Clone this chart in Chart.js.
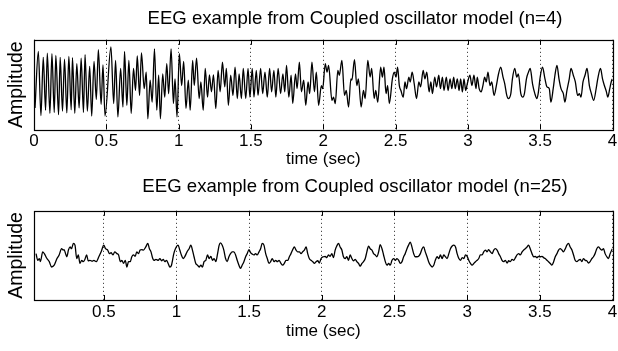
<!DOCTYPE html>
<html><head><meta charset="utf-8">
<script src="https://cdn.jsdelivr.net/npm/chart.js@4.4.0/dist/chart.umd.min.js"></script>
<style>
html,body{margin:0;padding:0;background:#fff;width:618px;height:351px;overflow:hidden;position:relative;}
canvas{position:absolute;left:0;}
#c1{top:0;}
#c2{top:175px;}
</style></head><body>
<canvas id="c1" width="710" height="175" style="width:710px;height:175px"></canvas>
<canvas id="c2" width="710" height="176" style="width:710px;height:176px"></canvas>
<script>
const topTitle = "EEG example from Coupled oscillator model (n=4)";
const bottomTitle = "EEG example from Coupled oscillator model (n=25)";
const xLabel = "time (sec)";
const yLabel = "Amplitude";
const topTicks = [0, 0.5, 1, 1.5, 2, 2.5, 3, 3.5, 4];
const bottomTicks = [0.5, 1, 1.5, 2, 2.5, 3, 3.5, 4];

const topTime = [0.007,0.030,0.048,0.064,0.080,0.092,0.110,0.124,0.140,0.151,0.170,0.181,0.197,0.211,0.227,0.241,0.257,0.266,0.282,0.296,0.312,0.326,0.342,0.353,0.369,0.385,0.399,0.415,0.431,0.445,0.464,0.477,0.491,
0.532,0.551,0.564,0.580,0.599,0.615,0.626,0.642,0.656,0.672,0.688,0.702,0.714,0.730,0.743,0.762,0.776,0.787,0.803,0.817,0.833,0.849,0.862,0.874,0.890,0.904,0.918,0.931,0.948,0.964,0.975,0.989,
1.005,1.021,1.035,1.051,1.067,1.080,1.097,1.108,1.124,1.142,1.154,1.170,1.184,1.200,1.213,1.227,1.241,1.257,1.273,1.287,1.303,1.319,1.330,1.344,1.360,1.376,1.390,1.406,1.418,1.434,1.447,1.464,1.480,1.493,
1.509,1.521,1.537,1.549,1.567,1.581,1.597,1.613,1.629,1.643,1.659,1.672,1.688,1.705,1.721,1.734,1.746,1.762,1.778,1.789,1.808,1.819,1.835,1.849,1.865,1.879,1.895,1.906,1.922,1.939,1.952,1.968,1.987,1.996,
2.014,2.026,2.037,2.060,2.071,2.083,2.101,2.111,2.129,2.147,2.159,2.175,2.191,2.198,2.216,2.232,2.243,2.262,2.278,2.290,2.308,2.324,2.335,2.352,2.363,2.377,2.397,2.409,2.420,2.434,2.445,2.457,2.478,2.491,
2.503,2.514,2.526,2.537,2.553,2.565,2.576,2.592,2.601,2.615,2.629,2.645,2.661,2.673,2.691,2.703,2.716,2.732,2.744,2.755,2.771,2.783,2.799,2.810,2.824,2.835,2.851,2.863,2.877,2.889,2.902,2.913,2.927,2.939,2.950,2.962,2.973,2.985,2.996,
3.014,3.028,3.042,3.056,3.065,3.078,3.092,3.104,3.116,3.127,3.139,3.153,3.165,3.181,3.197,3.210,3.227,3.243,3.255,3.269,3.280,3.297,3.308,3.324,3.338,3.349,3.366,3.380,3.391,3.405,3.419,3.431,3.447,3.463,3.477,3.486,
3.500,3.516,3.533,3.547,3.563,3.574,3.590,3.602,3.616,3.630,3.644,3.660,3.671,3.685,3.701,3.713,3.729,3.743,3.759,3.771,3.782,3.796,3.810,3.824,3.840,3.854,3.870,3.887,3.898,3.917,3.931,3.944,3.958,3.967,3.981,3.991,3.998];
const topAmp = [-0.52,0.74,-0.69,0.61,-0.57,0.70,-0.64,0.69,-0.62,0.65,-0.67,0.61,-0.59,0.57,-0.63,0.63,-0.56,0.60,-0.64,0.47,-0.52,0.59,-0.62,0.67,-0.59,0.41,-0.70,0.52,-0.33,0.78,-0.44,0.44,-0.70,
0.84,-0.42,0.54,-0.72,0.36,-0.50,0.74,-0.46,0.54,-0.64,0.36,-0.13,0.64,-0.24,0.71,-0.09,0.28,-0.76,0.10,-0.39,0.80,-0.57,0.21,-0.76,0.24,-0.28,0.47,-0.20,0.80,-0.42,0.13,-0.72,
0.69,-0.02,0.52,-0.53,0.10,-0.57,0.54,-0.02,0.59,-0.31,0.06,-0.57,0.36,-0.28,0.22,-0.16,0.22,-0.53,0.32,-0.16,0.50,-0.05,0.36,-0.46,0.21,-0.24,0.39,-0.31,0.24,-0.31,0.36,-0.31,0.36,-0.28,
0.36,-0.28,0.32,-0.24,0.36,-0.20,0.28,-0.28,0.36,-0.16,0.32,-0.28,0.36,-0.20,0.24,-0.16,0.43,-0.28,0.21,-0.42,0.24,-0.09,0.50,-0.16,0.10,-0.46,0.06,-0.20,0.50,-0.16,0.28,-0.46,-0.02,-0.09,
0.47,0.28,0.43,-0.35,-0.28,-0.42,0.32,0.21,0.54,-0.24,-0.13,-0.50,0.13,0.10,0.56,-0.02,0.13,-0.50,-0.13,-0.31,0.54,0.17,0.36,-0.31,-0.13,-0.39,0.39,0.17,0.39,-0.20,-0.02,-0.42,0.13,0.28,
0.17,0.39,-0.02,-0.13,-0.28,0.06,-0.09,0.17,0.06,0.28,0.02,-0.31,0.06,-0.05,0.32,0.13,0.28,-0.16,0.06,-0.20,0.17,-0.05,0.21,-0.09,0.17,-0.13,0.17,-0.13,0.13,-0.09,0.17,-0.09,0.13,-0.13,0.13,-0.16,0.13,-0.13,0.02,
0.21,-0.02,0.21,-0.09,0.17,-0.09,-0.16,-0.02,0.17,0.06,0.28,-0.02,0.06,-0.24,-0.02,0.21,0.39,0.17,0.02,-0.24,-0.31,-0.20,0.13,0.36,0.17,0.24,-0.20,-0.28,-0.20,0.13,0.28,0.36,0.02,-0.20,-0.31,-0.20,
0.17,0.39,0.13,-0.05,-0.09,-0.39,-0.09,0.21,0.43,0.13,-0.09,-0.20,-0.39,-0.13,0.13,0.36,0.21,0.06,-0.24,-0.20,-0.28,0.06,0.21,0.36,-0.02,-0.20,-0.35,-0.09,0.13,0.36,0.13,-0.02,-0.16,-0.28,-0.09,0.06,0.13];

const bottomTime = [0.034,0.046,0.057,0.064,0.080,0.091,0.109,0.125,0.141,0.159,0.178,0.193,0.210,0.221,0.227,0.237,0.246,0.257,0.268,0.278,0.291,0.302,0.314,0.325,0.336,0.348,0.359,0.370,0.382,0.393,0.405,0.421,0.432,0.448,0.466,0.482,
0.500,0.512,0.527,0.539,0.550,0.564,0.575,0.591,0.602,0.614,0.625,0.636,0.648,0.659,0.670,0.682,0.693,0.705,0.716,0.727,0.739,0.750,0.762,0.773,0.789,0.803,0.814,0.825,0.837,0.846,0.859,0.875,0.886,0.898,0.909,0.920,0.932,0.943,0.955,0.966,0.973,0.982,0.993,
1.011,1.023,1.034,1.046,1.057,1.073,1.087,1.099,1.110,1.121,1.133,1.145,1.156,1.168,1.179,1.190,1.202,1.214,1.225,1.237,1.248,1.259,1.271,1.283,1.294,1.303,1.315,1.326,1.338,1.349,1.361,1.372,1.383,1.395,1.407,1.418,1.430,1.441,1.452,1.464,1.476,1.487,
1.499,1.510,1.521,1.533,1.545,1.556,1.568,1.579,1.590,1.602,1.614,1.625,1.637,1.648,1.659,1.671,1.683,1.694,1.706,1.719,1.731,1.742,1.754,1.766,1.777,1.788,1.800,1.811,1.823,1.834,1.846,1.857,1.868,1.880,1.892,1.903,1.914,1.926,1.938,1.949,1.961,1.972,1.983,1.995,
2.011,2.023,2.034,2.046,2.057,2.069,2.080,2.092,2.103,2.115,2.126,2.138,2.149,2.161,2.172,2.184,2.195,2.207,2.218,2.230,2.241,2.253,2.264,2.276,2.287,2.299,2.310,2.322,2.333,2.345,2.356,2.368,2.379,2.391,2.402,2.414,2.425,2.437,2.448,2.460,2.471,2.483,2.494,
2.506,2.517,2.529,2.540,2.552,2.563,2.574,2.586,2.597,2.609,2.620,2.632,2.643,2.655,2.666,2.678,2.690,2.701,2.712,2.724,2.735,2.747,2.759,2.770,2.781,2.793,2.805,2.816,2.828,2.839,2.851,2.862,2.874,2.885,2.897,2.908,2.920,2.931,2.943,2.954,2.966,2.977,2.989,
3.000,3.011,3.023,3.034,3.046,3.057,3.069,3.080,3.091,3.103,3.114,3.126,3.137,3.148,3.160,3.172,3.183,3.194,3.206,3.217,3.229,3.240,3.251,3.263,3.275,3.286,3.297,3.309,3.320,3.332,3.343,3.354,3.366,3.378,3.389,3.400,3.412,3.423,3.434,3.446,3.457,3.469,3.480,3.491,
3.503,3.515,3.526,3.537,3.549,3.560,3.572,3.583,3.595,3.606,3.618,3.629,3.640,3.652,3.663,3.675,3.686,3.697,3.709,3.721,3.732,3.743,3.755,3.766,3.778,3.789,3.800,3.812,3.823,3.835,3.846,3.858,3.869,3.880,3.892,3.903,3.915,3.927,3.938,3.949,3.961,3.972,3.984,3.995,4.000];
const bottomAmp = [0.04,-0.11,-0.07,-0.14,0.08,0.04,-0.07,-0.14,-0.26,-0.22,-0.07,0.01,0.15,0.12,0.13,0.04,-0.03,0.12,0.19,0.15,0.27,0.23,-0.07,0.01,-0.18,-0.11,-0.14,-0.09,0.01,-0.12,-0.11,-0.13,-0.11,-0.14,-0.03,0.08,
0.23,0.15,0.12,0.04,0.06,0.01,0.08,0.04,0.01,-0.14,-0.11,-0.18,-0.11,-0.26,-0.14,-0.14,-0.03,0.01,-0.02,0.08,0.04,0.12,0.13,0.12,0.19,0.27,0.15,0.08,-0.07,-0.11,-0.09,-0.11,-0.07,-0.12,-0.09,-0.14,-0.11,-0.18,-0.26,-0.22,-0.11,0.04,0.15,
0.23,0.12,0.01,-0.07,-0.03,0.08,0.15,0.23,0.12,-0.03,-0.18,-0.22,-0.26,-0.22,-0.26,-0.14,-0.11,0.01,-0.07,-0.02,-0.11,-0.07,-0.14,0.04,0.23,0.28,0.23,0.12,-0.07,-0.14,-0.03,0.04,0.08,0.08,0.01,-0.11,-0.22,-0.29,-0.22,-0.14,-0.03,0.04,
0.13,0.06,0.03,0.01,0.04,0.01,0.08,0.15,0.27,0.23,0.04,-0.07,-0.18,-0.14,-0.07,-0.14,-0.11,-0.14,-0.11,-0.18,-0.22,-0.18,-0.11,-0.11,-0.03,0.04,0.13,0.19,0.12,0.08,0.08,0.04,0.08,0.12,0.19,0.04,-0.07,-0.11,-0.14,-0.18,-0.14,-0.12,-0.17,-0.07,
-0.03,-0.02,-0.05,0.01,-0.02,0.04,-0.05,0.12,0.21,0.27,0.19,0.12,-0.03,-0.07,-0.03,-0.11,0.01,-0.07,-0.12,-0.09,-0.14,-0.18,-0.24,-0.18,-0.14,-0.07,0.08,0.21,0.15,0.12,0.04,0.01,-0.03,0.08,0.24,0.15,0.01,-0.14,-0.22,-0.18,-0.22,-0.11,-0.07,
-0.11,-0.07,-0.11,-0.18,-0.14,-0.03,0.04,0.15,0.23,0.30,0.19,0.04,-0.03,-0.03,-0.02,0.04,0.15,0.19,0.08,-0.03,-0.14,-0.22,-0.26,-0.22,-0.11,-0.03,-0.07,0.01,-0.07,0.01,-0.03,-0.07,0.04,0.15,0.21,0.23,0.19,0.04,-0.07,-0.11,-0.05,-0.07,0.01,
-0.02,-0.11,-0.18,-0.22,-0.18,-0.14,-0.11,-0.07,0.01,0.01,0.08,0.12,0.08,0.13,0.08,0.04,0.12,0.15,0.12,0.04,-0.03,-0.11,-0.14,-0.11,-0.17,-0.12,-0.14,-0.09,-0.11,-0.05,0.01,0.04,0.01,0.08,0.12,0.15,0.19,0.23,0.15,0.04,-0.03,-0.02,-0.05,-0.02,
-0.03,-0.02,-0.05,-0.07,-0.11,-0.14,-0.18,-0.22,-0.14,-0.03,0.04,0.12,0.15,0.12,0.08,0.15,0.23,0.27,0.19,0.12,0.01,-0.11,-0.14,-0.11,-0.09,-0.14,-0.07,-0.11,-0.12,-0.17,-0.14,-0.07,-0.03,0.04,0.15,0.19,0.15,0.12,0.15,0.04,-0.03,-0.07,0.04,0.12,0.15];

const FONT = "'Liberation Sans', Arial, Helvetica, sans-serif";

const boxPlugin = {
  id: 'box',
  afterDraw(chart) {
    const {ctx, chartArea: a, scales: {x}} = chart;
    ctx.save();
    ctx.strokeStyle = '#000';
    ctx.lineWidth = 1;
    ctx.beginPath();
    x.ticks.forEach(t => {
      const px = Math.round(x.getPixelForValue(t.value)) + 0.5;
      ctx.moveTo(px, a.top); ctx.lineTo(px, a.top + 5);
      ctx.moveTo(px, a.bottom); ctx.lineTo(px, a.bottom - 5);
    });
    ctx.stroke();
    ctx.lineWidth = 1.2;
    ctx.strokeRect(Math.round(a.left) + 0.5, Math.round(a.top) + 0.5,
                   Math.round(a.right - a.left), Math.round(a.bottom - a.top));
    ctx.restore();
  }
};

function makeChart(id, times, amps, ticksArr, xmin, title, tpad, xH) {
  const pts = times.map((t, i) => ({x: t, y: amps[i]}));
  return new Chart(document.getElementById(id), {
    type: 'line',
    data: {datasets: [{data: pts, borderColor: '#000', borderWidth: 1.3, pointRadius: 0,
      fill: false, cubicInterpolationMode: 'monotone', yAxisID: 'y'}]},
    options: {
      responsive: false, animation: false, devicePixelRatio: 1,
      layout: {padding: 0},
      plugins: {
        legend: {display: false}, tooltip: {enabled: false},
        title: {display: true, text: title, color: '#000',
          font: {family: FONT, size: 18.6, weight: 'normal'}, padding: tpad}
      },
      scales: {
        x: {
          type: 'linear', min: xmin, max: 4,
          afterFit: s => { s.height = xH; },
          afterBuildTicks: s => { s.ticks = ticksArr.map(v => ({value: v})); },
          ticks: {color: '#000', font: {family: FONT, size: 17}, padding: 2,
            maxRotation: 0, autoSkip: false, callback: v => String(v)},
          grid: {drawTicks: false, color: '#222', lineWidth: 1},
          border: {display: false, dash: [1, 3]},
          title: {display: true, text: xLabel, color: '#000',
            font: {family: FONT, size: 17}, padding: {top: 0, bottom: xH > 48 ? 9 : 5}}
        },
        y: {
          min: -1, max: 1,
          afterFit: s => { s.width = 34; },
          ticks: {display: false},
          grid: {display: false, drawTicks: false},
          border: {display: false},
          title: {display: true, text: yLabel, color: '#000',
            font: {family: FONT, size: 19.5}, padding: {top: 4.5, bottom: 0}}
        },
        yRight: {
          position: 'right', min: -1, max: 1,
          afterFit: s => { s.width = 97.5; },
          ticks: {display: false},
          grid: {display: false, drawTicks: false},
          border: {display: false}
        }
      }
    },
    plugins: [boxPlugin]
  });
}

makeChart('c1', topTime, topAmp, topTicks, 0, topTitle, {top: 8.0, bottom: 9.5}, 45.5);
makeChart('c2', bottomTime, bottomAmp, bottomTicks, 0.02, bottomTitle, {top: 1.0, bottom: 12.5}, 51);
</script>
</body></html>
